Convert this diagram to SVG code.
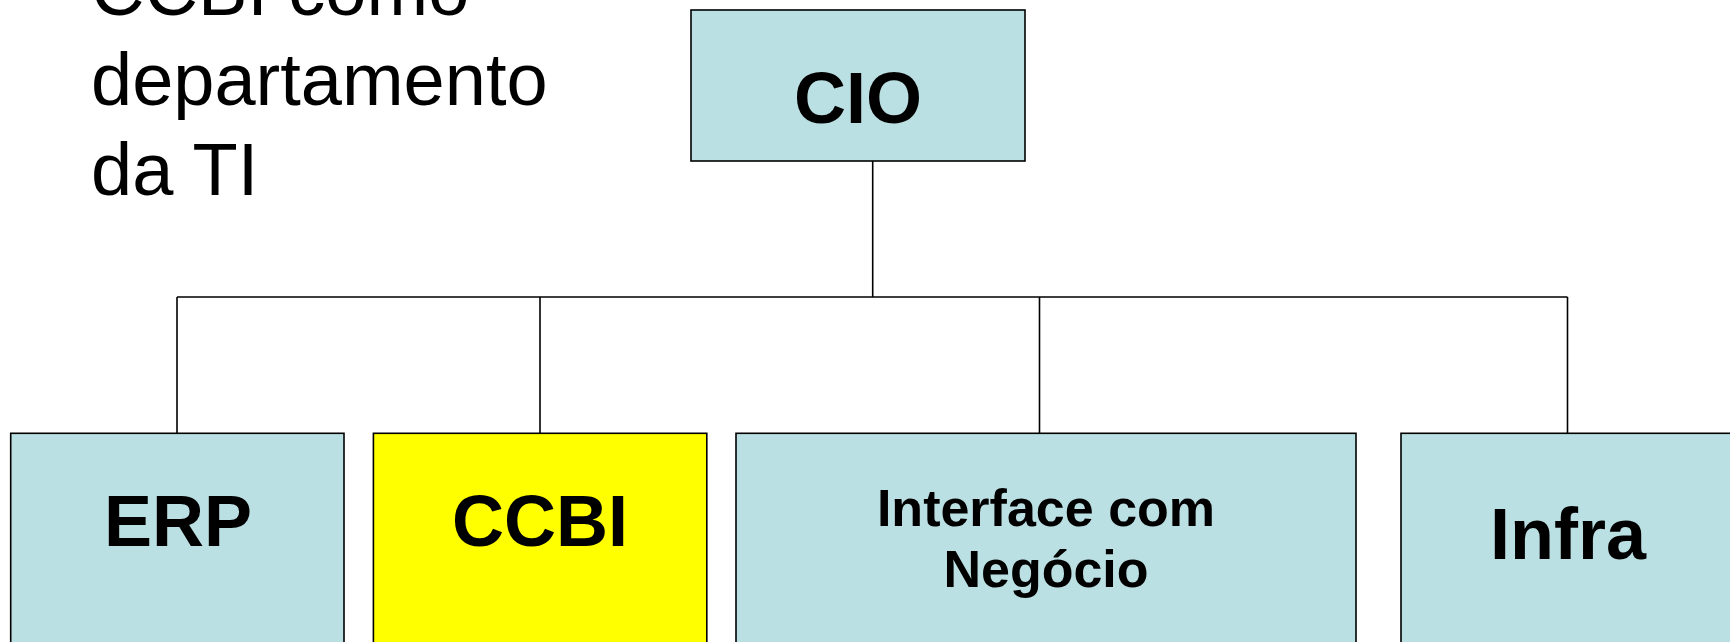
<svg xmlns="http://www.w3.org/2000/svg" width="1730" height="642" viewBox="0 0 1730 642">
<style>
.box{fill:#BBE0E3;stroke:#000;stroke-width:1.6}
.yel{fill:#FFFF00;stroke:#000;stroke-width:1.6}
.lbl{font-family:"Liberation Sans",Arial,sans-serif;font-weight:bold;fill:#000;text-anchor:middle}
.conn{fill:none;stroke:#000;stroke-width:1.6}
.title{font-family:"Liberation Sans",Arial,sans-serif;font-size:74px;fill:#000}
</style>
<rect width="1730" height="642" fill="#fff"/>
<g id="title">
<text class="title" x="91" y="15">CCBI como</text>
<text class="title" x="91" y="105">departamento</text>
<text class="title" x="91" y="195">da TI</text>
</g>
<g id="connectors">
<path class="conn" d="M872.7 161V297M177 297H1567.5M177 297V433.3M540 297V433.3M1039.5 297V433.3M1567.5 297V433.3"/>
</g>
<g id="cio">
<rect class="box" x="691" y="10" width="334" height="151"/>
<text class="lbl" x="858" y="123" font-size="72">CIO</text>
</g>
<g id="erp">
<rect class="box" x="10.7" y="433.3" width="333.3" height="240"/>
<text class="lbl" x="178" y="546" font-size="72">ERP</text>
</g>
<g id="ccbi">
<rect class="yel" x="373.4" y="433.3" width="333.4" height="240"/>
<text class="lbl" x="540" y="546" font-size="72">CCBI</text>
</g>
<g id="interface">
<rect class="box" x="736" y="433.3" width="620" height="240"/>
<text class="lbl" x="1046" y="526" font-size="52">Interface com</text>
<text class="lbl" x="1046" y="587" font-size="52">Negócio</text>
</g>
<g id="infra">
<rect class="box" x="1401" y="433.3" width="340" height="240"/>
<text class="lbl" x="1568" y="559" font-size="72">Infra</text>
</g>
</svg>
